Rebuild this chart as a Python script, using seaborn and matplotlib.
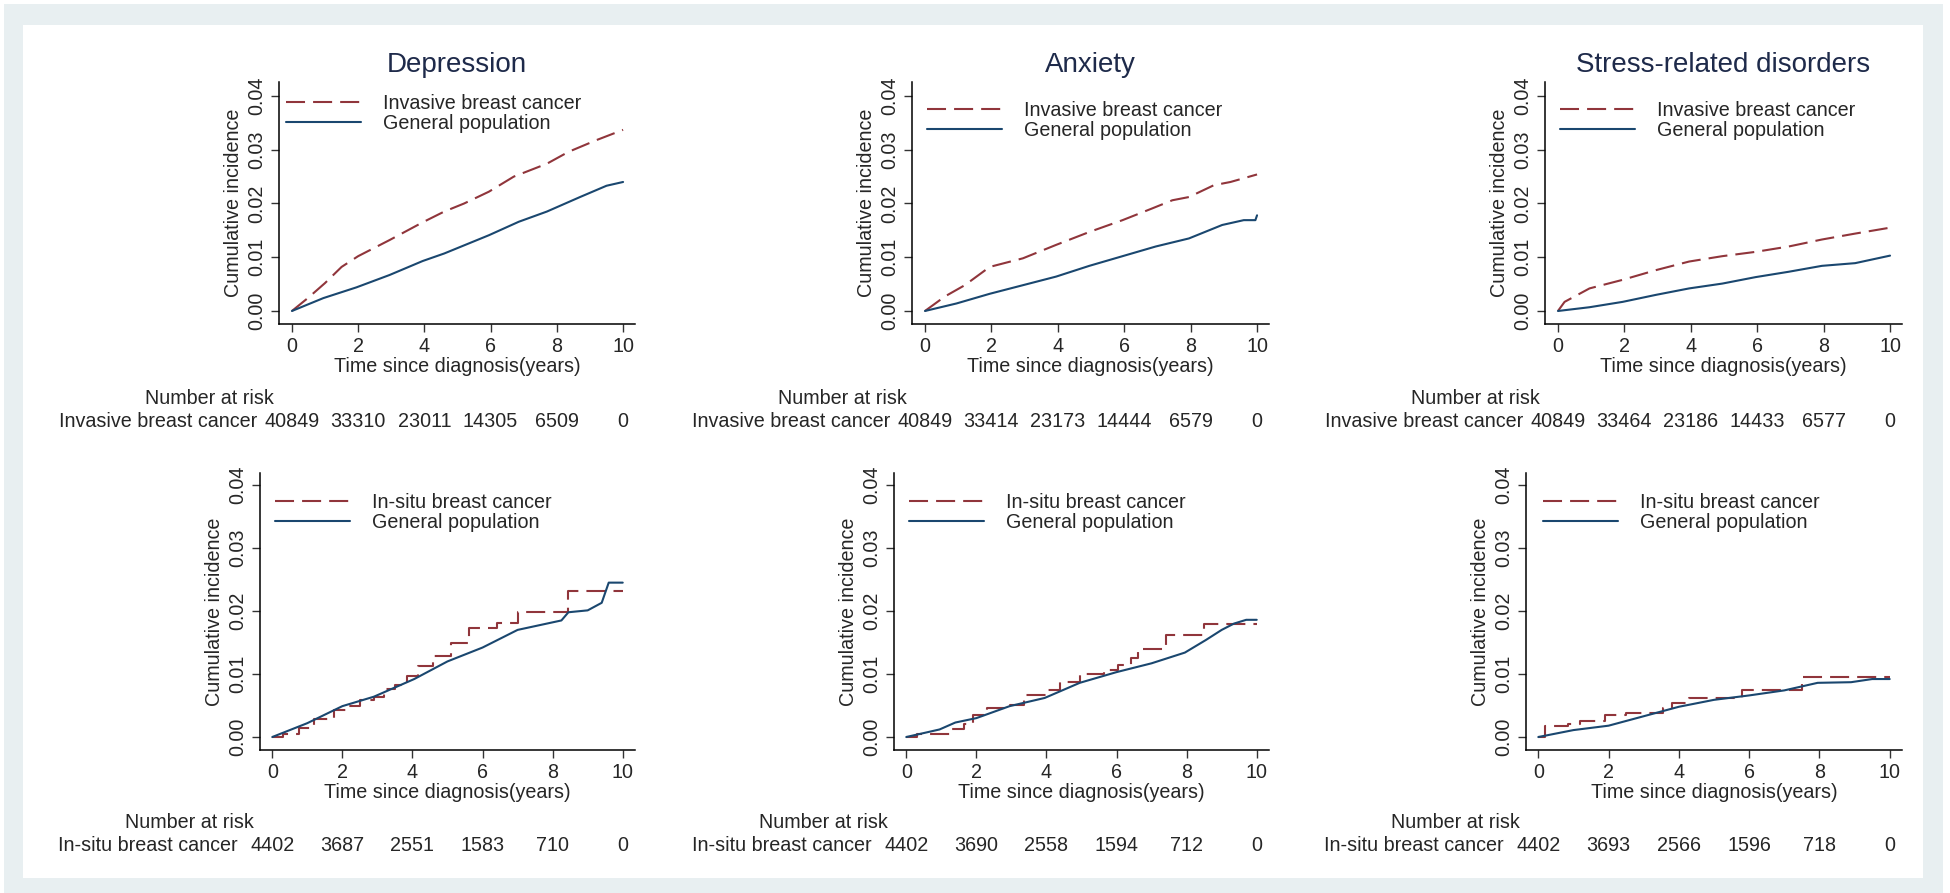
import matplotlib
matplotlib.use('Agg')
from matplotlib import pyplot as plt
from matplotlib.patches import Rectangle
import seaborn as sns

# ---- data (cumulative incidence by years since diagnosis) ----
titles = ['Depression', 'Anxiety', 'Stress-related disorders']
row_labels = ['Invasive breast cancer', 'In-situ breast cancer']
general_label = 'General population'
risk_times = [0, 2, 4, 6, 8, 10]

# invasive breast cancer row
dep_inv_t = [0, 0.5, 1.0, 1.5, 2.0, 2.95, 3.95, 4.6, 5.2, 5.95, 6.7, 7.7, 8.35, 9.2, 10]
dep_inv_y = [0, 0.0025, 0.0052, 0.0082, 0.0102, 0.0132, 0.0165, 0.0185, 0.0200, 0.0222, 0.0250, 0.0274, 0.0296, 0.0318, 0.0337]
dep_gen1_t = [0, 0.95, 1.95, 2.95, 3.95, 4.6, 5.95, 6.85, 7.7, 8.7, 9.5, 10]
dep_gen1_y = [0, 0.0024, 0.0044, 0.0067, 0.0093, 0.0107, 0.0141, 0.0166, 0.0185, 0.0212, 0.0233, 0.0240]

anx_inv_t = [0, 0.6, 1.2, 1.95, 2.95, 3.95, 4.95, 5.95, 6.85, 7.45, 7.95, 8.7, 9.2, 10]
anx_inv_y = [0, 0.0027, 0.0048, 0.0082, 0.0098, 0.0123, 0.0147, 0.0169, 0.0191, 0.0206, 0.0212, 0.0234, 0.0240, 0.0254]
anx_gen1_t = [0, 0.95, 1.95, 2.95, 3.95, 4.95, 5.95, 6.95, 7.95, 8.95, 9.6, 9.95, 10]
anx_gen1_y = [0, 0.0014, 0.0032, 0.0048, 0.0064, 0.0084, 0.0102, 0.0120, 0.0135, 0.0160, 0.0169, 0.0169, 0.0178]

str_inv_t = [0, 0.2, 0.95, 1.95, 2.95, 3.95, 4.95, 5.95, 6.95, 7.95, 8.95, 10]
str_inv_y = [0, 0.0017, 0.0042, 0.0058, 0.0076, 0.0092, 0.0102, 0.0110, 0.0120, 0.0133, 0.0144, 0.0155]
str_gen1_t = [0, 0.95, 1.95, 2.95, 3.95, 4.95, 5.95, 6.95, 7.95, 8.95, 10]
str_gen1_y = [0, 0.0007, 0.0017, 0.0030, 0.0042, 0.0051, 0.0063, 0.0073, 0.0084, 0.0089, 0.0103]

# in-situ breast cancer row (cancer curves are step functions)
dep_ins_t = [0, 0.3, 0.75, 1.2, 1.75, 2.15, 2.5, 2.9, 3.2, 3.5, 3.85, 4.15, 4.6, 5.1, 5.6, 6.4, 7.0, 8.45, 10]
dep_ins_y = [0, 0.0005, 0.0014, 0.0029, 0.0043, 0.0050, 0.0058, 0.0063, 0.0076, 0.0083, 0.0097, 0.0112, 0.0129, 0.0149, 0.0173, 0.0181, 0.0198, 0.0231, 0.0231]
dep_gen2_t = [0, 1.0, 2.0, 2.9, 4.05, 5.0, 6.0, 7.0, 8.0, 8.25, 8.45, 9.0, 9.4, 9.6, 10]
dep_gen2_y = [0, 0.0022, 0.0049, 0.0064, 0.0092, 0.0120, 0.0142, 0.0170, 0.0182, 0.0185, 0.0198, 0.0201, 0.0213, 0.0245, 0.0245]

anx_ins_t = [0, 0.3, 0.95, 1.3, 1.65, 1.9, 2.3, 2.95, 3.35, 4.0, 4.4, 4.95, 5.65, 6.05, 6.4, 6.6, 7.4, 8.5, 10]
anx_ins_y = [0, 0.0004, 0.0005, 0.0013, 0.0020, 0.0035, 0.0046, 0.0051, 0.0066, 0.0075, 0.0088, 0.0100, 0.0107, 0.0115, 0.0125, 0.0140, 0.0162, 0.0180, 0.0180]
anx_gen2_t = [0, 0.95, 1.4, 2.0, 2.95, 3.95, 4.95, 6.0, 7.0, 7.95, 8.55, 9.0, 9.35, 9.7, 10]
anx_gen2_y = [0, 0.0012, 0.0023, 0.0030, 0.0049, 0.0062, 0.0086, 0.0103, 0.0117, 0.0134, 0.0154, 0.0170, 0.0180, 0.0186, 0.0186]

str_ins_t = [0, 0.2, 0.85, 1.2, 1.9, 2.5, 3.55, 3.8, 4.3, 5.8, 7.5, 10]
str_ins_y = [0, 0.0017, 0.0020, 0.0025, 0.0035, 0.0038, 0.0046, 0.0054, 0.0062, 0.0074, 0.0095, 0.0095]
str_gen2_t = [0, 1.0, 2.0, 3.0, 4.0, 5.0, 6.0, 7.0, 7.95, 8.9, 9.5, 10]
str_gen2_y = [0, 0.0011, 0.0018, 0.0033, 0.0048, 0.0059, 0.0066, 0.0074, 0.0086, 0.0087, 0.0092, 0.0092]

risk_inv = [[40849, 33310, 23011, 14305, 6509, 0],
            [40849, 33414, 23173, 14444, 6579, 0],
            [40849, 33464, 23186, 14433, 6577, 0]]
risk_ins = [[4402, 3687, 2551, 1583, 710, 0],
            [4402, 3690, 2558, 1594, 712, 0],
            [4402, 3693, 2566, 1596, 718, 0]]

cancer_curves = [[(dep_inv_t, dep_inv_y), (anx_inv_t, anx_inv_y), (str_inv_t, str_inv_y)],
                 [(dep_ins_t, dep_ins_y), (anx_ins_t, anx_ins_y), (str_ins_t, str_ins_y)]]
general_curves = [[(dep_gen1_t, dep_gen1_y), (anx_gen1_t, anx_gen1_y), (str_gen1_t, str_gen1_y)],
                  [(dep_gen2_t, dep_gen2_y), (anx_gen2_t, anx_gen2_y), (str_gen2_t, str_gen2_y)]]
risk_tables = [risk_inv, risk_ins]

# ---- style ----
sns.set_style('white')
plt.rcParams['font.family'] = ['Liberation Sans', 'DejaVu Sans']
plt.rcParams['lines.scale_dashes'] = False
FS = 14.2
MAROON = '#90353b'
NAVY = '#1a476f'
FRAME = '#e8eff1'

W, H = 1950, 893
fig = plt.figure(figsize=(W / 100, H / 100), dpi=100)
fig.patches.append(Rectangle((4 / W, 0), (1943 - 4) / W, (H - 4) / H, transform=fig.transFigure,
                             facecolor=FRAME, edgecolor='none', zorder=-2))
fig.patches.append(Rectangle((23 / W, (H - 878) / H), (1923 - 23) / W, (878 - 25) / H,
                             transform=fig.transFigure, facecolor='white', edgecolor='none', zorder=-1))

# axes boxes in pixels: left, right, top, bottom
boxes = [[(279, 635, 82, 324), (912, 1269, 82, 324), (1545, 1902, 82, 324)],
         [(260, 635, 473, 750), (894, 1269, 473, 750), (1526, 1902, 473, 750)]]
xlims = [(-0.39, 10.36), (-0.35, 10.35)]
ylims = [(-0.00242, 0.0426), (-0.00206, 0.0419)]
legend_anchor = [[(0.02, 0.952), (0.042, 0.922), (0.042, 0.922)],
                 [(0.04, 0.928), (0.04, 0.928), (0.045, 0.928)]]
risk_head_dy = [-53.5, -52]
risk_row_dy = [-70.5, -69]

for r in range(2):
    for c in range(3):
        l, rr, t, b = boxes[r][c]
        ax = fig.add_axes([l / W, 1 - b / H, (rr - l) / W, (b - t) / H])
        ax.set_facecolor('none')
        ct, cy = cancer_curves[r][c]
        gt, gy = general_curves[r][c]
        sns.lineplot(x=ct, y=cy, ax=ax, color=MAROON, lw=1.5, estimator=None,
                     linestyle=(0, (13.7, 5.8)), drawstyle='steps-post' if r == 1 else 'default',
                     label=row_labels[r])
        sns.lineplot(x=gt, y=gy, ax=ax, color=NAVY, lw=1.5, estimator=None,
                     label=general_label)
        ax.set_xlim(*xlims[r])
        ax.set_ylim(*ylims[r])
        ax.set_xticks(risk_times)
        ax.set_xticklabels([str(v) for v in risk_times])
        ax.set_yticks([0, 0.01, 0.02, 0.03, 0.04])
        ax.set_yticklabels(['0.00', '0.01', '0.02', '0.03', '0.04'])
        for s in ['top', 'right']:
            ax.spines[s].set_visible(False)
        for s in ['left', 'bottom']:
            ax.spines[s].set_color('black')
            ax.spines[s].set_linewidth(1.1)
        ax.tick_params(axis='both', direction='out', length=6, width=1, color='#333333',
                       labelsize=FS, pad=3, left=True, bottom=True)
        ax.tick_params(axis='y', labelrotation=90)
        for lab in ax.get_yticklabels():
            lab.set_va('center')
        ax.set_xlabel('Time since diagnosis(years)', fontsize=FS, labelpad=1)
        ax.set_ylabel('Cumulative incidence', fontsize=FS, labelpad=3)
        if r == 0:
            ax.set_title(titles[c], fontsize=20, color='#1e2a4a', pad=7)
        ax.legend(loc='upper left', bbox_to_anchor=legend_anchor[r][c], frameon=False,
                  fontsize=FS, handlelength=3.8, handletextpad=1.1, borderpad=0,
                  borderaxespad=0, labelspacing=0.05)

        # number at risk table
        ax.annotate('Number at risk', xy=(0, 0), xycoords=('data', 'axes fraction'),
                    xytext=(-13, risk_head_dy[r]), textcoords='offset points',
                    ha='right', va='center', fontsize=FS)
        ax.annotate(row_labels[r], xy=(0, 0), xycoords=('data', 'axes fraction'),
                    xytext=(-25, risk_row_dy[r]), textcoords='offset points',
                    ha='right', va='center', fontsize=FS)
        for tm, n in zip(risk_times, risk_tables[r][c]):
            ax.annotate(str(n), xy=(tm, 0), xycoords=('data', 'axes fraction'),
                        xytext=(0, risk_row_dy[r]), textcoords='offset points',
                        ha='center', va='center', fontsize=FS)

fig.savefig('out.png', dpi=100)
